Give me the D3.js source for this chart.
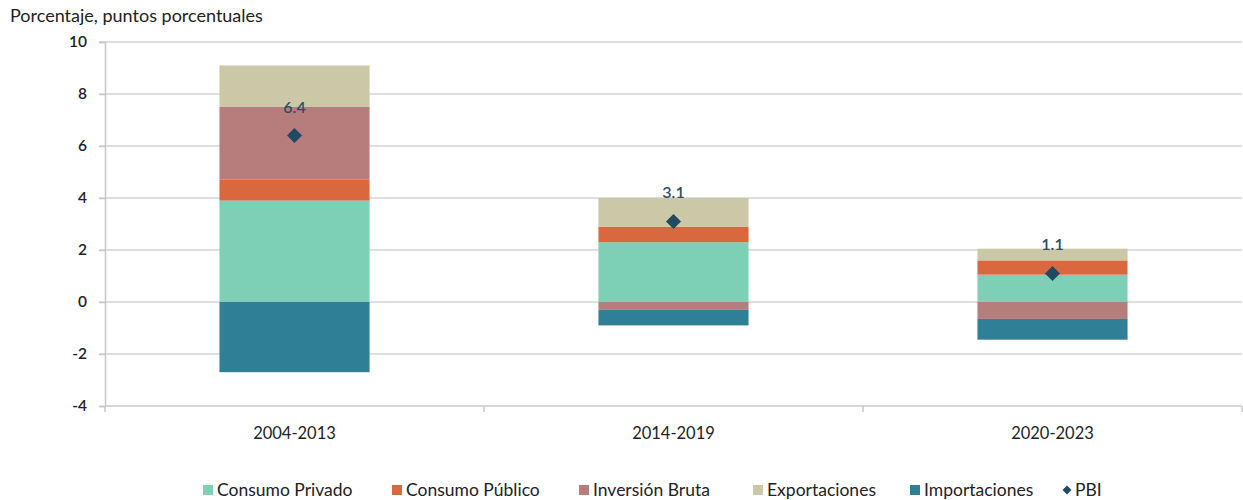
<!DOCTYPE html>
<html>
<head>
<meta charset="utf-8">
<script src="https://cdn.jsdelivr.net/npm/d3@7"></script>
<style>
  html, body { margin: 0; padding: 0; background: #fff; }
  svg { display: block; font-family: Lato, "Open Sans", sans-serif; }
</style>
</head>
<body>
<svg id="chart" width="1243" height="500"></svg>
<script>
// Contribución al crecimiento del PBI por componente del gasto
const periods = ["2004-2013", "2014-2019", "2020-2023"];
const consumoPrivado = [3.9, 2.3, 1.05];
const consumoPublico = [0.8, 0.6, 0.55];
const inversionBruta = [2.8, -0.3, -0.65];
const exportaciones = [1.6, 1.1, 0.45];
const importaciones = [-2.7, -0.6, -0.8];
const pbi = [6.4, 3.1, 1.1];
const yTicks = [-4, -2, 0, 2, 4, 6, 8, 10];

const seriesNames = ["Consumo Privado", "Consumo Público", "Inversión Bruta", "Exportaciones", "Importaciones"];
const seriesValues = [consumoPrivado, consumoPublico, inversionBruta, exportaciones, importaciones];
const colors = ["#7dcfb6", "#d9683f", "#b77c7c", "#cac8a6", "#2f7f97"];
const pbiColor = "#1f4a63";

const svg = d3.select("#chart");

const x = d3.scaleBand().domain(periods).range([105, 1242])
  .paddingInner(0.604).paddingOuter(0.302);
const y = d3.scaleLinear().domain([-4, 10]).range([406, 42]);

// rows for the stack
const rows = periods.map((p, i) => {
  const r = { period: p };
  seriesNames.forEach((s, j) => r[s] = seriesValues[j][i]);
  return r;
});
const stacked = d3.stack().keys(seriesNames).offset(d3.stackOffsetDiverging)(rows);

// gridlines
svg.append("g").selectAll("line")
  .data(yTicks.filter(t => t > -4))
  .join("line")
  .attr("x1", 99).attr("x2", 1242)
  .attr("y1", d => y(d)).attr("y2", d => y(d))
  .attr("stroke", "#d4d4d4").attr("stroke-width", 1.5);

// bars
svg.append("g").selectAll("g")
  .data(stacked)
  .join("g")
  .attr("fill", (d, i) => colors[i])
  .selectAll("rect")
  .data(d => d)
  .join("rect")
  .attr("x", d => x(d.data.period))
  .attr("width", x.bandwidth())
  .attr("y", d => y(Math.max(d[0], d[1])))
  .attr("height", d => Math.abs(y(d[0]) - y(d[1])));

// y axis (hyphen as minus sign)
const yAxis = svg.append("g").attr("transform", "translate(105,0)")
  .call(d3.axisLeft(y).tickValues(yTicks).tickSize(6).tickPadding(12).tickFormat(d => String(d)));
yAxis.select(".domain").attr("stroke", "#c8c8c8").attr("stroke-width", 1.5);
yAxis.selectAll(".tick line").attr("stroke", "#c8c8c8").attr("stroke-width", 1.5);
yAxis.selectAll(".tick text").attr("font-size", 15.5).attr("fill", "#222")
  .attr("font-weight", 600).attr("font-family", "Lato, sans-serif");

// x axis at the bottom of the plot
const bounds = [105].concat(periods.map(p => x(p) - x.step() * x.paddingInner() / 2 + x.step()));
const xg = svg.append("g");
xg.append("line").attr("x1", 105).attr("x2", 1242).attr("y1", y(-4)).attr("y2", y(-4))
  .attr("stroke", "#c8c8c8").attr("stroke-width", 1.5);
xg.selectAll("line.tk").data(bounds).join("line").attr("class", "tk")
  .attr("x1", d => d).attr("x2", d => d)
  .attr("y1", y(-4)).attr("y2", y(-4) + 6)
  .attr("stroke", "#c8c8c8").attr("stroke-width", 1.5);
xg.selectAll("text").data(periods).join("text")
  .attr("x", d => x(d) + x.bandwidth() / 2)
  .attr("y", 439)
  .attr("text-anchor", "middle")
  .attr("font-size", 16.5).attr("fill", "#222")
  .text(d => d);

// PBI markers and labels
const diamond = d3.symbol(d3.symbolSquare, 112);
svg.append("g").selectAll("path")
  .data(pbi)
  .join("path")
  .attr("d", diamond)
  .attr("transform", (d, i) => `translate(${x(periods[i]) + x.bandwidth() / 2},${y(d)}) rotate(45)`)
  .attr("fill", pbiColor);
svg.append("g").selectAll("text")
  .data(pbi)
  .join("text")
  .attr("x", (d, i) => x(periods[i]) + x.bandwidth() / 2)
  .attr("y", d => y(d) - 23)
  .attr("text-anchor", "middle")
  .attr("font-size", 16).attr("font-weight", 600).attr("fill", "#2f4d61")
  .text(d => d3.format(".1f")(d));

// title
svg.append("text").attr("x", 10).attr("y", 22)
  .attr("font-size", 18).attr("fill", "#222")
  .text("Porcentaje, puntos porcentuales");

// legend
const legendX = [203, 392, 579, 753, 910];
const lg = svg.append("g");
seriesNames.forEach((s, i) => {
  lg.append("rect").attr("x", legendX[i]).attr("y", 485).attr("width", 10).attr("height", 10)
    .attr("fill", colors[i]);
  lg.append("text").attr("x", legendX[i] + 14).attr("y", 496)
    .attr("font-size", 17.5).attr("fill", "#222").text(s);
});
lg.append("path").attr("d", d3.symbol(d3.symbolSquare, 40))
  .attr("transform", "translate(1067,490) rotate(45)").attr("fill", pbiColor);
lg.append("text").attr("x", 1075).attr("y", 496)
  .attr("font-size", 17.5).attr("fill", "#222").text("PBI");
</script>
</body>
</html>
